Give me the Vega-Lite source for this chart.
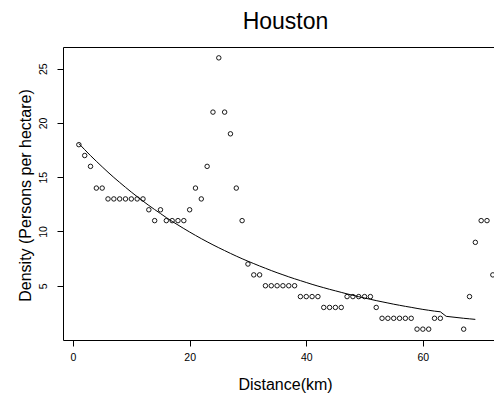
{
  "$schema": "https://vega.github.io/schema/vega-lite/v6.json",
  "autosize": "none",
  "width": 431,
  "height": 293,
  "padding": {"left": 63, "top": 47, "right": 0, "bottom": 58},
  "background": "white",
  "config": {
    "font": "Liberation Sans",
    "view": {"stroke": null},
    "axis": {
      "grid": false,
      "domainColor": "black",
      "domainWidth": 1,
      "tickColor": "black",
      "tickWidth": 1,
      "labelColor": "black",
      "titleColor": "black",
      "labelFont": "Liberation Sans",
      "titleFont": "Liberation Sans",
      "titleFontWeight": "normal"
    }
  },
  "title": {
    "text": "Houston",
    "font": "Liberation Sans",
    "fontSize": 23,
    "fontWeight": "normal",
    "color": "black",
    "anchor": "middle",
    "baseline": "alphabetic",
    "offset": -5,
    "dx": 7
  },
  "datasets": {
    "density": [
      {"distance": 1, "density": 18}, {"distance": 2, "density": 17}, {"distance": 3, "density": 16},
      {"distance": 4, "density": 14}, {"distance": 5, "density": 14}, {"distance": 6, "density": 13},
      {"distance": 7, "density": 13}, {"distance": 8, "density": 13}, {"distance": 9, "density": 13},
      {"distance": 10, "density": 13}, {"distance": 11, "density": 13}, {"distance": 12, "density": 13},
      {"distance": 13, "density": 12}, {"distance": 14, "density": 11}, {"distance": 15, "density": 12},
      {"distance": 16, "density": 11}, {"distance": 17, "density": 11}, {"distance": 18, "density": 11},
      {"distance": 19, "density": 11}, {"distance": 20, "density": 12}, {"distance": 21, "density": 14},
      {"distance": 22, "density": 13}, {"distance": 23, "density": 16}, {"distance": 24, "density": 21},
      {"distance": 25, "density": 26}, {"distance": 26, "density": 21}, {"distance": 27, "density": 19},
      {"distance": 28, "density": 14}, {"distance": 29, "density": 11}, {"distance": 30, "density": 7},
      {"distance": 31, "density": 6}, {"distance": 32, "density": 6}, {"distance": 33, "density": 5},
      {"distance": 34, "density": 5}, {"distance": 35, "density": 5}, {"distance": 36, "density": 5},
      {"distance": 37, "density": 5}, {"distance": 38, "density": 5}, {"distance": 39, "density": 4},
      {"distance": 40, "density": 4}, {"distance": 41, "density": 4}, {"distance": 42, "density": 4},
      {"distance": 43, "density": 3}, {"distance": 44, "density": 3}, {"distance": 45, "density": 3},
      {"distance": 46, "density": 3}, {"distance": 47, "density": 4}, {"distance": 48, "density": 4},
      {"distance": 49, "density": 4}, {"distance": 50, "density": 4}, {"distance": 51, "density": 4},
      {"distance": 52, "density": 3}, {"distance": 53, "density": 2}, {"distance": 54, "density": 2},
      {"distance": 55, "density": 2}, {"distance": 56, "density": 2}, {"distance": 57, "density": 2},
      {"distance": 58, "density": 2}, {"distance": 59, "density": 1}, {"distance": 60, "density": 1},
      {"distance": 61, "density": 1}, {"distance": 62, "density": 2}, {"distance": 63, "density": 2},
      {"distance": 67, "density": 1}, {"distance": 68, "density": 4}, {"distance": 69, "density": 9},
      {"distance": 70, "density": 11}, {"distance": 71, "density": 11}, {"distance": 72, "density": 6}
    ],
    "fitted": [
      {"distance": 1, "fit": 18.10}, {"distance": 2, "fit": 17.54}, {"distance": 3, "fit": 16.99},
      {"distance": 4, "fit": 16.47}, {"distance": 5, "fit": 15.96}, {"distance": 6, "fit": 15.46},
      {"distance": 7, "fit": 14.98}, {"distance": 8, "fit": 14.52}, {"distance": 9, "fit": 14.07},
      {"distance": 10, "fit": 13.63}, {"distance": 11, "fit": 13.21}, {"distance": 12, "fit": 12.80},
      {"distance": 13, "fit": 12.40}, {"distance": 14, "fit": 12.02}, {"distance": 15, "fit": 11.65},
      {"distance": 16, "fit": 11.28}, {"distance": 17, "fit": 10.93}, {"distance": 18, "fit": 10.60},
      {"distance": 19, "fit": 10.27}, {"distance": 20, "fit": 9.95}, {"distance": 21, "fit": 9.64},
      {"distance": 22, "fit": 9.34}, {"distance": 23, "fit": 9.05}, {"distance": 24, "fit": 8.77},
      {"distance": 25, "fit": 8.50}, {"distance": 26, "fit": 8.24}, {"distance": 27, "fit": 7.98},
      {"distance": 28, "fit": 7.73}, {"distance": 29, "fit": 7.49}, {"distance": 30, "fit": 7.26},
      {"distance": 31, "fit": 7.04}, {"distance": 32, "fit": 6.82}, {"distance": 33, "fit": 6.61},
      {"distance": 34, "fit": 6.40}, {"distance": 35, "fit": 6.20}, {"distance": 36, "fit": 6.01},
      {"distance": 37, "fit": 5.82}, {"distance": 38, "fit": 5.64}, {"distance": 39, "fit": 5.47},
      {"distance": 40, "fit": 5.30}, {"distance": 41, "fit": 5.13}, {"distance": 42, "fit": 4.97},
      {"distance": 43, "fit": 4.82}, {"distance": 44, "fit": 4.67}, {"distance": 45, "fit": 4.53},
      {"distance": 46, "fit": 4.39}, {"distance": 47, "fit": 4.25}, {"distance": 48, "fit": 4.12},
      {"distance": 49, "fit": 3.99}, {"distance": 50, "fit": 3.87}, {"distance": 51, "fit": 3.75},
      {"distance": 52, "fit": 3.63}, {"distance": 53, "fit": 3.52}, {"distance": 54, "fit": 3.41},
      {"distance": 55, "fit": 3.30}, {"distance": 56, "fit": 3.20}, {"distance": 57, "fit": 3.10},
      {"distance": 58, "fit": 3.01}, {"distance": 59, "fit": 2.91}, {"distance": 60, "fit": 2.82},
      {"distance": 61, "fit": 2.74}, {"distance": 62, "fit": 2.66}, {"distance": 63, "fit": 2.60},
      {"distance": 64, "fit": 2.18}, {"distance": 67, "fit": 2.00}, {"distance": 68, "fit": 1.95},
      {"distance": 69, "fit": 1.90}
    ]
  },
  "layer": [
    {
      "data": {"name": "density"},
      "mark": {"type": "point", "shape": "circle", "filled": false, "color": "black", "size": 20, "strokeWidth": 0.9, "opacity": 1},
      "encoding": {
        "x": {
          "field": "distance", "type": "quantitative",
          "scale": {"domain": [-1.72, 72.2], "nice": false, "zero": false},
          "axis": {
            "orient": "bottom",
            "values": [0, 20, 40, 60],
            "tickSize": 6,
            "labelFontSize": 10.5,
            "labelPadding": 6,
            "title": "Distance(km)",
            "titleFontSize": 16,
            "titleX": 222,
            "titleY": 49,
            "titleBaseline": "alphabetic",
            "titleAnchor": "middle"
          }
        },
        "y": {
          "field": "density", "type": "quantitative",
          "scale": {"domain": [0, 27], "nice": false, "zero": false},
          "axis": {
            "orient": "left",
            "values": [5, 10, 15, 20, 25],
            "tickSize": 6,
            "labelFontSize": 10.5,
            "labelAngle": 270,
            "labelAlign": "center",
            "labelBaseline": "alphabetic",
            "labelPadding": 11,
            "title": "Density (Persons per hectare)",
            "titleFontSize": 16,
            "titleX": -32.5,
            "titleY": 148,
            "titleBaseline": "alphabetic",
            "titleAngle": 270,
            "titleAnchor": "middle"
          }
        }
      }
    },
    {
      "data": {"name": "fitted"},
      "mark": {"type": "line", "color": "black", "strokeWidth": 1},
      "encoding": {
        "x": {
          "field": "distance", "type": "quantitative",
          "axis": {"orient": "top", "labels": false, "ticks": false, "title": null, "domainColor": "black", "minExtent": 0, "maxExtent": 0, "offset": 0}
        },
        "y": {"field": "fit", "type": "quantitative"}
      }
    }
  ]
}
